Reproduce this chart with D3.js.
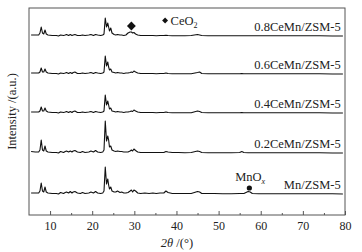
<!DOCTYPE html>
<html>
<head>
<meta charset="utf-8">
<script src="https://cdn.jsdelivr.net/npm/d3@7"></script>
<style>
  body { margin: 0; background: #fff; }
  text { font-family: "Liberation Serif", "Times New Roman", serif; fill: #222; }
</style>
</head>
<body>
<div class="canvas"></div>
<script>
// 2theta sample positions shared by all patterns
const twoTheta = [5.5, 6.5, 7.3, 7.6, 7.9, 8.2, 8.5, 8.8, 9.1, 9.5, 10.5, 11.5, 12.0, 12.5, 13.2, 13.6, 13.9, 14.4, 14.8, 15.2,
  15.5, 15.9, 16.5, 17.2, 17.7, 18.3, 19.2, 19.7, 20.3, 20.8, 21.3, 22.0, 22.5, 22.8, 23.1, 23.4, 23.7, 23.9, 24.1, 24.4,
  24.7, 25.2, 25.6, 26.0, 26.6, 27.0, 27.5, 28.0, 28.5, 29.0, 29.3, 29.6, 29.9, 30.3, 30.8, 31.5, 32.5, 33.5, 34.4, 35.2,
  36.1, 37.0, 37.5, 38.0, 39.0, 40.5, 42.0, 43.5, 45.0, 45.5, 46.0, 47.5, 49.0, 51.0, 53.0, 55.0, 55.5, 56.0, 57.0, 57.5,
  58.0, 59.5, 62.0, 65.0, 68.0, 71.0, 74.0, 77.0, 79.5];

const sampleNames = ["Mn/ZSM-5", "0.2CeMn/ZSM-5", "0.4CeMn/ZSM-5", "0.6CeMn/ZSM-5", "0.8CeMn/ZSM-5"];
const offsets = [21, 62, 102, 141, 179];

const mnZsm = [1, 1, 1, 3, 11, 3, 2, 7, 2, 1, 0.5, 0.5, 0, 1.5, 0.5, 1.5, 2, 1, 2.5, 1,
  2, 2.5, 1, 0.5, 1.5, 0.5, 1, 2, 1, 2.5, 1, 0.5, 1, 3, 27, 10, 15, 9, 5, 7,
  3, 2, 2, 3, 1.5, 2, 1, 1, 1.5, 3, 4, 2, 4, 3, 1, 0.5, 1, 0.5, 1, 0.5,
  1, 1, 3, 1.5, 0.5, 0.5, 0.5, 0.5, 2.5, 2, 0.5, 0.5, 0.5, 0.3, 0.3, 0.5, 0.5, 0.5, 2.5, 2,
  0.5, 0.3, 0.2, 0.2, 0.2, 0.2, 0.2, 0.2, 0];
const ce02 = [1.5, 1, 1, 3, 13, 3, 2, 7, 2, 1, 0.5, 0.5, 0, 1.5, 0.5, 1.5, 2, 1, 2, 1,
  2, 2.5, 1, 0.5, 1.5, 0.5, 1, 2, 1, 2.5, 1, 0.5, 1, 3, 32, 12, 17, 13, 6, 7,
  3, 2, 1.5, 2, 1.5, 1.5, 1, 1, 1, 2, 3, 2, 4, 2.5, 1, 0.5, 0.5, 0.5, 0.5, 0.5,
  0.5, 0.5, 1.5, 1, 0.5, 0.5, 0.3, 0.5, 2, 1.5, 0.5, 0.3, 0.3, 0.3, 0.3, 0.5, 1.5, 0.5, 0.3, 0.3,
  0.3, 0.3, 0.2, 0.2, 0.2, 0.2, 0.2, 0, 0];
const ce04 = [1, 1, 1, 2, 6, 2, 2, 5, 2, 1, 0.5, 0.5, 0, 1, 0.5, 1, 1.5, 0.5, 1.5, 0.5,
  1.5, 2, 0.5, 0.5, 1, 0.5, 1, 1.5, 0.5, 1.5, 1, 0.5, 1, 2, 18, 8, 12, 8, 4, 5,
  2, 1.5, 1, 1.5, 1, 1, 0.5, 1, 1, 1.5, 2, 1.5, 3, 2, 1, 0.5, 0.5, 0.5, 0.5, 0.3,
  0.5, 0.5, 1, 0.5, 0.3, 0.3, 0.3, 0.3, 2, 1.5, 0.5, 0.3, 0.3, 0.3, 0.3, 0.3, 0.5, 0.3, 0.3, 0.3,
  0.3, 0.2, 0.2, 0.2, 0.2, 0.2, 0.2, 0, 0];
const ce06 = [1, 1, 1, 2, 6, 2, 2, 5, 2, 1, 0.5, 0.5, 0, 1, 0.5, 1, 1.5, 0.5, 1.5, 0.5,
  1.5, 2, 0.5, 0.5, 1, 0.5, 1, 1.5, 0.5, 1.5, 1, 0.5, 1, 2, 18, 8, 12, 7, 4, 5,
  2, 1.5, 1, 1.5, 1, 1, 0.5, 1, 1, 1.5, 2, 1.5, 3, 2, 1, 0.5, 0.5, 0.5, 0.5, 0.3,
  0.5, 0.5, 1, 0.5, 0.3, 0.3, 0.3, 0.3, 1.5, 2, 0.5, 0.3, 0.3, 0.3, 0.3, 0.3, 0.5, 0.3, 0.3, 0.3,
  0.3, 0.2, 0.2, 0.2, 0.2, 0.2, 0.2, 0, 0];
const ce08 = [1, 1, 1, 3, 9, 3, 2, 6, 2, 1, 0.5, 0.5, 0, 1, 0.5, 1, 1.5, 0.5, 1.5, 0.5,
  1, 1.5, 0.5, 0.5, 1, 0.5, 1, 1.5, 0.5, 1.5, 1, 0.5, 1, 2, 18, 9, 13, 9, 5, 8,
  3, 1.5, 1, 1.5, 1, 1, 0.5, 1, 3, 4, 4, 3, 3.5, 2, 1, 0.5, 0.5, 0.5, 0.5, 0.3,
  0.5, 0.5, 0.8, 0.5, 0.3, 0.3, 0.3, 0.5, 1.5, 1, 0.5, 0.3, 0.3, 0.3, 0.3, 0.3, 0.3, 0.3, 0.3, 0.3,
  0.3, 0.2, 0.2, 0.2, 0.2, 0.2, 0.2, 0, 0];
const patterns = [mnZsm, ce02, ce04, ce06, ce08];

const xTicks = [10, 20, 30, 40, 50, 60, 70, 80];
const xMinorTicks = [15, 25, 35, 45, 55, 65, 75];
const ceo2Peak = [29.3, 10];
const mnoxPeak = [57.3, 6];

const totalWidth = 362;
const totalHeight = 252;
const margin = { top: 8, right: 17, bottom: 37, left: 29 };
const graphWidth = totalWidth - margin.left - margin.right;
const graphHeight = totalHeight - margin.top - margin.bottom;

const svg = d3.select(".canvas").append("svg")
  .attr("width", totalWidth)
  .attr("height", totalHeight);

const graph = svg.append("g")
  .attr("transform", `translate(${margin.left},${margin.top})`);

const x = d3.scaleLinear().domain([5, 80]).range([0, graphWidth]);
const y = d3.scaleLinear().domain([0, graphHeight]).range([graphHeight, 0]);

// frame
graph.append("rect")
  .attr("width", graphWidth).attr("height", graphHeight)
  .attr("fill", "none").attr("stroke", "#555").attr("stroke-width", 1);

const xAxis = d3.axisBottom(x).tickValues(xTicks).tickSize(-4).tickPadding(6).tickFormat(d3.format("d"));
const xAxisGroup = graph.append("g").attr("transform", `translate(0,${graphHeight})`).call(xAxis);
xAxisGroup.select(".domain").remove();
xAxisGroup.selectAll("line").attr("stroke", "#555");
xAxisGroup.selectAll("text").style("font-size", "12px").attr("fill", "#222");

const minorAxis = d3.axisBottom(x).tickValues(xMinorTicks).tickSize(-2).tickFormat("");
const minorGroup = graph.append("g").attr("transform", `translate(0,${graphHeight})`).call(minorAxis);
minorGroup.select(".domain").remove();
minorGroup.selectAll("line").attr("stroke", "#555");

// patterns
const line = d3.line().x(d => x(d[0])).y(d => y(d[1]));
patterns.forEach((vals, i) => {
  const pts = twoTheta.map((t, j) => [t, vals[j] + offsets[i]]);
  graph.append("path").datum(pts)
    .attr("fill", "none").attr("stroke", "#111").attr("stroke-width", 1.1)
    .attr("stroke-linejoin", "round")
    .attr("d", line);
  graph.append("text")
    .attr("x", x(79)).attr("y", y(offsets[i] + 5))
    .attr("text-anchor", "end").style("font-size", "12.5px")
    .text(sampleNames[i]);
});

// phase markers
const diamond = d3.symbol().type(d3.symbolDiamond2);
graph.append("path")
  .attr("d", diamond.size(50)())
  .attr("transform", `translate(${x(ceo2Peak[0])},${y(offsets[4] + ceo2Peak[1])})`)
  .attr("fill", "#111");
graph.append("circle")
  .attr("cx", x(mnoxPeak[0])).attr("cy", y(offsets[0] + mnoxPeak[1]))
  .attr("r", 2.6).attr("fill", "#111");

const mnLabel = graph.append("text")
  .attr("x", x(57.5)).attr("y", y(offsets[0] + 13))
  .attr("text-anchor", "middle").style("font-size", "12.5px");
mnLabel.append("tspan").text("MnO");
mnLabel.append("tspan").attr("dy", 3).style("font-size", "8px").style("font-style", "italic").text("x");

// CeO2 legend
graph.append("path")
  .attr("d", diamond.size(22)())
  .attr("transform", `translate(${x(37.3)},${12.5})`)
  .attr("fill", "#111");
const ceLabel = graph.append("text")
  .attr("x", x(38.6)).attr("y", 16.5).style("font-size", "12.5px");
ceLabel.append("tspan").text("CeO");
ceLabel.append("tspan").attr("dy", 3).style("font-size", "8px").text("2");

// axis titles
const xTitle = svg.append("text")
  .attr("x", 177).attr("y", 247)
  .attr("text-anchor", "middle").style("font-size", "12.5px");
xTitle.append("tspan").style("font-style", "italic").text("2θ");
xTitle.append("tspan").text(" /(°)");

svg.append("text")
  .attr("transform", `translate(16,${margin.top + graphHeight / 2}) rotate(-90)`)
  .attr("text-anchor", "middle").style("font-size", "12.5px")
  .text("Intensity /(a.u.)");
</script>
</body>
</html>
